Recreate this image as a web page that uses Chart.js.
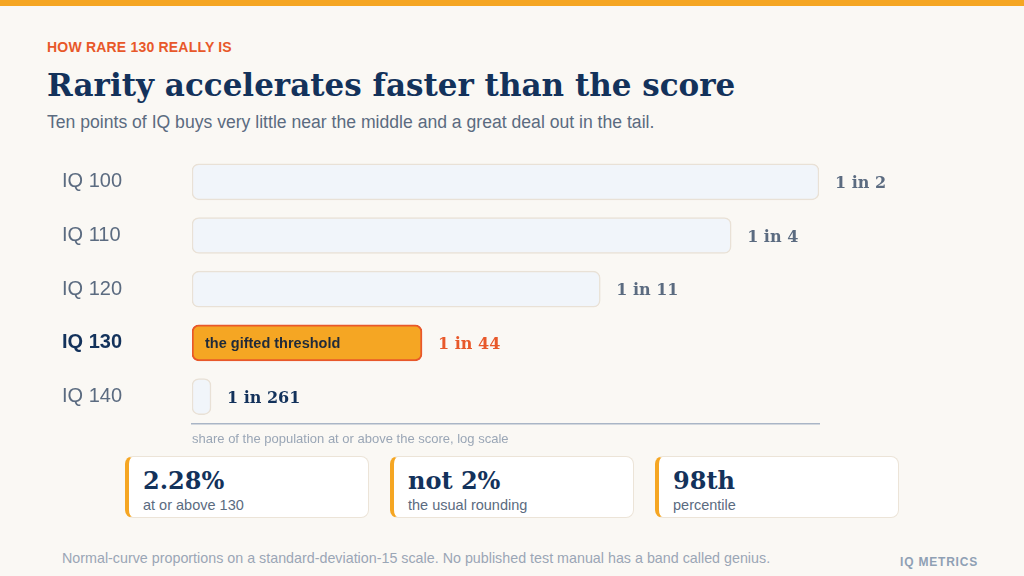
<!DOCTYPE html>
<html>
<head>
<meta charset="utf-8">
<script src="https://cdn.jsdelivr.net/npm/chart.js@4.4.1/dist/chart.umd.min.js"></script>
<style>
  html, body { margin: 0; padding: 0; }
  body { width: 1024px; height: 576px; background: #faf8f4; position: relative; overflow: hidden; font-family: "Liberation Sans", Arial, sans-serif; }
  .topbar { position: absolute; left: 0; top: 0; width: 1024px; height: 6px; background: #f5a623; }
  .kicker { position: absolute; left: 47px; top: 39px; font-size: 14px; font-weight: bold; color: #e8582a; letter-spacing: 0.2px; }
  h1 { position: absolute; left: 47px; top: 67px; margin: 0; font-family: "DejaVu Serif", Georgia, serif; font-weight: bold; font-size: 31px; color: #13325b; white-space: nowrap; }
  .sub { position: absolute; left: 47px; top: 112px; font-size: 17.6px; color: #5b6b80; white-space: nowrap; }
  #wrap { position: absolute; left: 62px; top: 140px; width: 870px; height: 310px; }
  .card { position: absolute; top: 456px; width: 239px; height: 60px; background: #ffffff; border: 1px solid #ece4d8; border-left: 4px solid #f5a623; border-radius: 8px; box-sizing: content-box; }
  .card .big { position: absolute; left: 14px; top: 9px; font-family: "DejaVu Serif", Georgia, serif; font-weight: bold; font-size: 24px; color: #13325b; white-space: nowrap; }
  .card .small { position: absolute; left: 14px; top: 40px; font-size: 14.5px; color: #5b6b80; white-space: nowrap; }
  .foot { position: absolute; left: 62px; top: 550px; font-size: 14.3px; color: #9aa6b6; white-space: nowrap; }
  .brand { position: absolute; left: 900px; top: 555px; font-size: 12px; font-weight: bold; color: #8fa0b4; letter-spacing: 0.8px; }
</style>
</head>
<body>
<div class="topbar"></div>
<div class="kicker">HOW RARE 130 REALLY IS</div>
<h1>Rarity accelerates faster than the score</h1>
<div class="sub">Ten points of IQ buys very little near the middle and a great deal out in the tail.</div>
<div id="wrap"><canvas id="c"></canvas></div>
<div id="cards"></div>
<div class="foot">Normal-curve proportions on a standard-deviation-15 scale. No published test manual has a band called genius.</div>
<div class="brand">IQ METRICS</div>
<script>
// ---- data ----
const categories = ['IQ 100', 'IQ 110', 'IQ 120', 'IQ 130', 'IQ 140'];
const sharePct = [50, 25.25, 9.12, 2.28, 0.383];          // % at or above the score
const oneInLabels = ['1 in 2', '1 in 4', '1 in 11', '1 in 44', '1 in 261'];
const highlightIndex = 3;
const highlightNote = 'the gifted threshold';
const axisMinPct = 0.381;
const axisMaxPct = 50;
const axisTitle = 'share of the population at or above the score, log scale';
const cardValues = ['2.28%', 'not 2%', '98th'];
const cardNotes = ['at or above 130', 'the usual rounding', 'percentile'];

// ---- cards ----
const cardLefts = [125, 390, 655];
const cardsEl = document.getElementById('cards');
cardValues.forEach((v, i) => {
  const d = document.createElement('div');
  d.className = 'card';
  d.style.left = cardLefts[i] + 'px';
  d.innerHTML = '<div class="big"></div><div class="small"></div>';
  d.querySelector('.big').textContent = v;
  d.querySelector('.small').textContent = cardNotes[i];
  cardsEl.appendChild(d);
});

// ---- chart ----
const labelColors = ['#5b6b80', '#5b6b80', '#5b6b80', '#e8582a', '#13325b'];
const valueLabels = {
  id: 'valueLabels',
  afterDatasetsDraw(chart) {
    const ctx = chart.ctx;
    const meta = chart.getDatasetMeta(0);
    ctx.save();
    meta.data.forEach((bar, i) => {
      ctx.font = 'bold 16px "DejaVu Serif", Georgia, serif';
      ctx.fillStyle = labelColors[i];
      ctx.textAlign = 'left';
      ctx.textBaseline = 'middle';
      ctx.fillText(oneInLabels[i], bar.x + 16, bar.y + 2);
      if (i === highlightIndex) {
        ctx.font = 'bold 14.5px "Liberation Sans", Arial, sans-serif';
        ctx.fillStyle = '#1f2a3a';
        ctx.fillText(highlightNote, bar.base + 13, bar.y + 1);
      }
    });
    ctx.restore();
  }
};

new Chart(document.getElementById('c'), {
  type: 'bar',
  data: {
    labels: categories,
    datasets: [{
      data: sharePct,
      backgroundColor: categories.map((_, i) => i === highlightIndex ? '#f5a623' : '#f1f5fa'),
      borderColor: categories.map((_, i) => i === highlightIndex ? '#e8582a' : '#e9e1d6'),
      borderWidth: categories.map((_, i) => i === highlightIndex ? 2 : 1.5),
      borderRadius: 7,
      borderSkipped: false,
      barThickness: 36,
      minBarLength: 19
    }]
  },
  options: {
    indexAxis: 'y',
    responsive: true,
    maintainAspectRatio: false,
    animation: false,
    layout: { padding: { top: 13, right: 113, bottom: 3, left: 0 } },
    plugins: { legend: { display: false }, tooltip: { enabled: false } },
    scales: {
      x: {
        type: 'logarithmic',
        min: axisMinPct,
        max: axisMaxPct,
        grid: { display: false },
        ticks: { display: false },
        border: { display: true, color: '#a9b5c6', width: 1.5 },
        title: {
          display: true, text: axisTitle, align: 'start',
          color: '#9aa6b6', font: { family: '"Liberation Sans", Arial, sans-serif', size: 13 },
          padding: { top: 0, bottom: 0 }
        }
      },
      y: {
        grid: { display: false },
        border: { display: false },
        afterFit(scale) { scale.width = 130; },
        ticks: {
          crossAlign: 'far',
          color: ctx => ctx.index === highlightIndex ? '#13325b' : '#5b6b80',
          font: ctx => ({ family: '"Liberation Sans", Arial, sans-serif', size: 20, weight: ctx.index === highlightIndex ? 'bold' : 'normal' })
        }
      }
    }
  },
  plugins: [valueLabels]
});
</script>
</body>
</html>
